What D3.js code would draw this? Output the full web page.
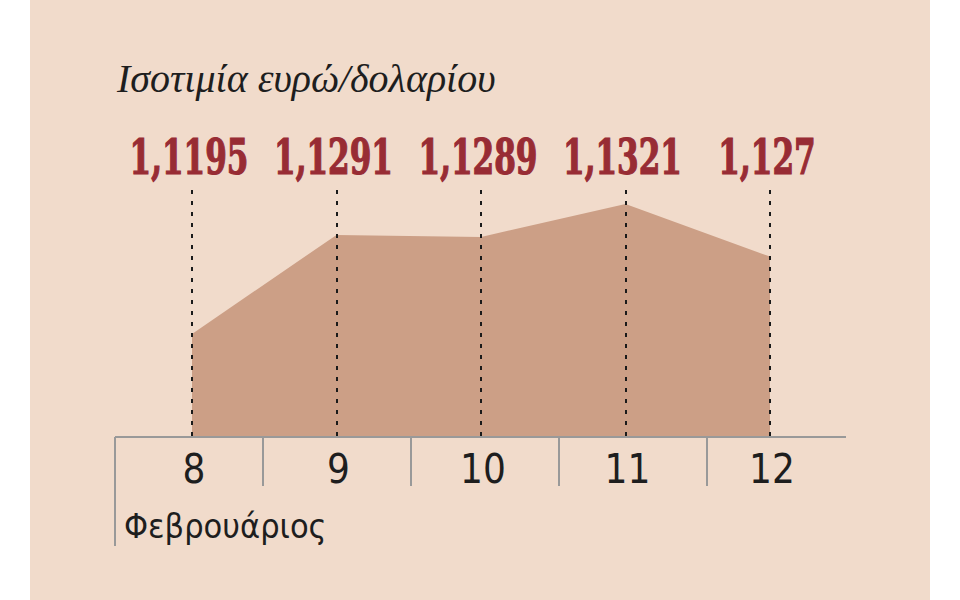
<!DOCTYPE html>
<html>
<head>
<meta charset="utf-8">
<script src="https://cdn.jsdelivr.net/npm/d3@7"></script>
<style>
  html, body { margin: 0; padding: 0; background: #fff; }
  svg { display: block; }
</style>
</head>
<body>
<svg id="chart" width="960" height="600"></svg>
<script>
const days = [8, 9, 10, 11, 12];
const rates = [1.1195, 1.1291, 1.1289, 1.1321, 1.127];
const rateLabels = ['1,1195', '1,1291', '1,1289', '1,1321', '1,127'];
const title = 'Ισοτιμία ευρώ/δολαρίου';
const monthLabel = 'Φεβρουάριος';

const bg = '#f1dbcb';
const areaColour = '#cc9f86';
const red = '#982c34';

const svg = d3.select('#chart');

svg.append('rect')
  .attr('x', 30)
  .attr('y', 0)
  .attr('width', 900)
  .attr('height', 600)
  .attr('fill', bg);

const baseY = 437;

const x = d3.scalePoint()
  .domain(days)
  .range([192, 770]);

const y = d3.scaleLinear()
  .domain([1.1095, 1.1321])
  .range([baseY, 204]);

// columns of the bottom axis
const cols = d3.scaleBand()
  .domain(days)
  .range([115, 855]);

const data = days.map((d, i) => ({ day: d, rate: rates[i], label: rateLabels[i] }));

const area = d3.area()
  .x(d => x(d.day))
  .y0(baseY)
  .y1(d => y(d.rate));

svg.append('path')
  .datum(data)
  .attr('d', area)
  .attr('fill', areaColour);

svg.selectAll('.guide')
  .data(data)
  .enter()
  .append('line')
  .attr('class', 'guide')
  .attr('x1', d => Math.round(x(d.day)))
  .attr('x2', d => Math.round(x(d.day)))
  .attr('y1', 190)
  .attr('y2', baseY)
  .attr('stroke', '#1a1a1a')
  .attr('stroke-width', 2)
  .attr('stroke-dasharray', '4,7');

// axis line and column separators
svg.append('line')
  .attr('x1', cols.range()[0])
  .attr('x2', 846)
  .attr('y1', baseY)
  .attr('y2', baseY)
  .attr('stroke', '#999')
  .attr('stroke-width', 2);

svg.selectAll('.sep')
  .data(days)
  .enter()
  .append('line')
  .attr('class', 'sep')
  .attr('x1', d => cols(d))
  .attr('x2', d => cols(d))
  .attr('y1', baseY)
  .attr('y2', (d, i) => (i === 0 ? 546 : 486))
  .attr('stroke', '#999')
  .attr('stroke-width', 2);

svg.selectAll('.day')
  .data(days)
  .enter()
  .append('text')
  .attr('class', 'day')
  .attr('x', d => x(d) + 2)
  .attr('y', 483)
  .attr('text-anchor', 'middle')
  .style('font-family', '"DejaVu Sans Condensed", sans-serif')
  .style('font-size', '40px')
  .style('fill', '#1e1e1e')
  .text(d => d);

svg.append('text')
  .attr('x', 124)
  .attr('y', 538)
  .style('font-family', '"DejaVu Sans Condensed", sans-serif')
  .style('font-size', '34px')
  .style('fill', '#1e1e1e')
  .text(monthLabel);

// value labels: condensed bold serif, squeezed horizontally
svg.selectAll('.value')
  .data(data)
  .enter()
  .append('text')
  .attr('class', 'value')
  .attr('transform', d => `translate(${x(d.day) - 3},174) scale(0.72,1)`)
  .attr('text-anchor', 'middle')
  .style('font-family', '"DejaVu Serif Condensed", "DejaVu Serif", serif')
  .style('font-weight', 'bold')
  .style('font-size', '48px')
  .style('fill', red)
  .style('stroke', red)
  .style('stroke-width', 1.2)
  .text(d => d.label);

svg.append('text')
  .attr('x', 117)
  .attr('y', 92)
  .style('font-family', '"Liberation Serif", "DejaVu Serif", serif')
  .style('font-style', 'italic')
  .style('font-size', '40px')
  .style('fill', '#1e1e1e')
  .text(title);
</script>
</body>
</html>
